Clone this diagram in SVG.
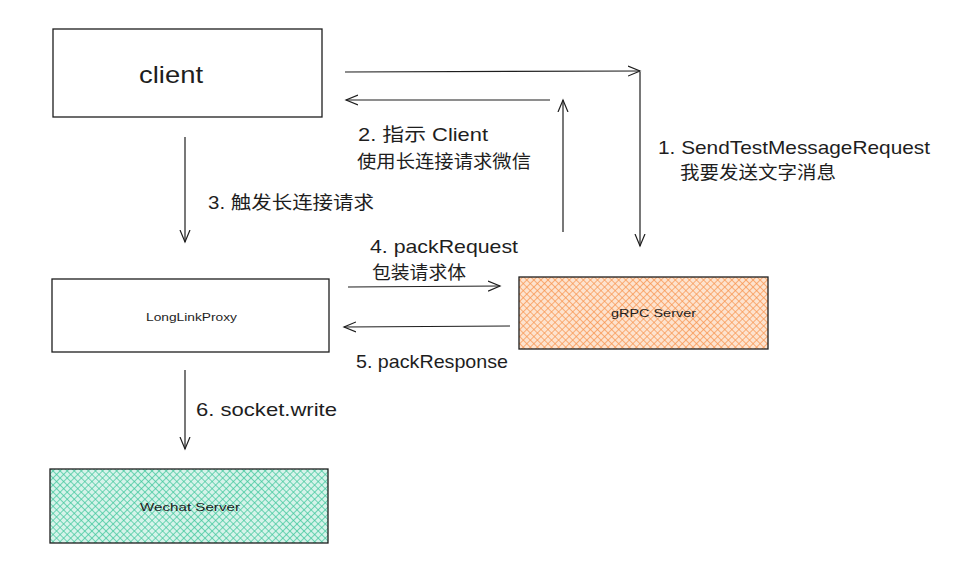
<svg xmlns="http://www.w3.org/2000/svg" width="956" height="574" viewBox="0 0 956 574">
<style>
.box{stroke:#1e1e1e;stroke-width:1.3;}
.lbl{font-family:"Liberation Sans","Noto Sans CJK SC",sans-serif;font-size:18.5px;fill:#1e1e1e;}
.small{font-family:"Liberation Sans",sans-serif;font-size:11.5px;fill:#1e1e1e;}
.conn{fill:none;stroke:#1e1e1e;stroke-width:1.2;}
</style>
<defs>
<pattern id="hOrange" width="5" height="5" patternUnits="userSpaceOnUse" patternTransform="rotate(45)">
<rect width="5" height="5" fill="#fde3cf"/>
<line x1="0" y1="0" x2="0" y2="5" stroke="#f8934c" stroke-width="1.4"/>
<line x1="0" y1="0" x2="5" y2="0" stroke="#f8934c" stroke-width="1.4"/>
</pattern>
<pattern id="hTeal" width="5" height="5" patternUnits="userSpaceOnUse" patternTransform="rotate(45)">
<rect width="5" height="5" fill="#d6f3ea"/>
<line x1="0" y1="0" x2="0" y2="5" stroke="#3cc69a" stroke-width="1.4"/>
<line x1="0" y1="0" x2="5" y2="0" stroke="#3cc69a" stroke-width="1.4"/>
</pattern>
<marker id="ah" markerWidth="14" markerHeight="14" refX="12" refY="7" orient="auto" markerUnits="userSpaceOnUse">
<path d="M0,2 L12,7 L0,12" fill="none" stroke="#1e1e1e" stroke-width="1.2"/>
</marker>
</defs>
<rect width="956" height="574" fill="#ffffff"/>

<g id="client">
<rect class="box" x="53" y="29" width="269" height="88" fill="#ffffff"/>
<text x="139" y="83" textLength="64" lengthAdjust="spacingAndGlyphs" style="font-family:'Liberation Sans',sans-serif;font-size:24px;fill:#1e1e1e">client</text>
</g>
<g id="longlinkproxy">
<rect class="box" x="52" y="279" width="277" height="73" fill="#ffffff"/>
<text class="small" x="146" y="321" textLength="91" lengthAdjust="spacingAndGlyphs">LongLinkProxy</text>
</g>
<g id="grpc-server">
<rect class="box" x="519" y="277" width="249" height="72" fill="url(#hOrange)"/>
<text class="small" x="611" y="317" textLength="85" lengthAdjust="spacingAndGlyphs">gRPC Server</text>
</g>
<g id="wechat-server">
<rect class="box" x="50" y="469" width="278" height="74" fill="url(#hTeal)"/>
<text class="small" x="140" y="511" textLength="100" lengthAdjust="spacingAndGlyphs">Wechat Server</text>
</g>

<g id="connectors">
<path class="conn" d="M345,72 L640,71" marker-end="url(#ah)"/>
<path class="conn" d="M640,72 L640,246" marker-end="url(#ah)"/>
<path class="conn" d="M563,232 L563,100" marker-end="url(#ah)"/>
<path class="conn" d="M550,100 L346,100" marker-end="url(#ah)"/>
<path class="conn" d="M185,137 L185,242" marker-end="url(#ah)"/>
<path class="conn" d="M348,287 L500,286" marker-end="url(#ah)"/>
<path class="conn" d="M510,326 L344,327" marker-end="url(#ah)"/>
<path class="conn" d="M185,370 L185,449" marker-end="url(#ah)"/>
</g>

<g id="labels">
<text class="lbl" x="358" y="141" textLength="130" lengthAdjust="spacingAndGlyphs">2. 指示 Client</text>
<text class="lbl" x="357" y="168" textLength="174" lengthAdjust="spacingAndGlyphs">使用长连接请求微信</text>
<text class="lbl" x="658" y="154" textLength="272" lengthAdjust="spacingAndGlyphs">1. SendTestMessageRequest</text>
<text class="lbl" x="680" y="179" textLength="156" lengthAdjust="spacingAndGlyphs">我要发送文字消息</text>
<text class="lbl" x="208" y="209" textLength="166" lengthAdjust="spacingAndGlyphs">3. 触发长连接请求</text>
<text class="lbl" x="370" y="253" textLength="148" lengthAdjust="spacingAndGlyphs">4. packRequest</text>
<text class="lbl" x="372" y="279" textLength="94" lengthAdjust="spacingAndGlyphs">包装请求体</text>
<text class="lbl" x="356" y="368" textLength="152" lengthAdjust="spacingAndGlyphs">5. packResponse</text>
<text class="lbl" x="196" y="416" textLength="141" lengthAdjust="spacingAndGlyphs">6. socket.write</text>
</g>
</svg>
